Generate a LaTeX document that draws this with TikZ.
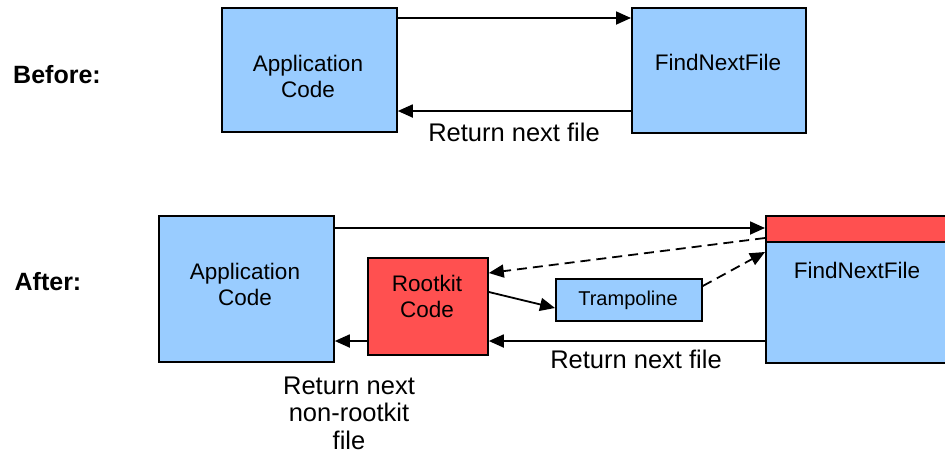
\documentclass[tikz,border=0pt]{standalone}
\usepackage{fontspec}
\setmainfont{Liberation Sans}
\usetikzlibrary{arrows.meta}
\definecolor{boxblue}{HTML}{99CCFF}
\definecolor{boxred}{HTML}{FF5050}
\tikzset{
  bluebox/.style={draw=black, fill=boxblue, line width=1.8pt, inner sep=0pt, anchor=north west},
  redbox/.style={draw=black, fill=boxred, line width=1.8pt, inner sep=0pt, anchor=north west},
  boxtext/.style={font=\fontsize{22.5}{26}\selectfont, align=center, inner sep=0pt},
  smalltext/.style={font=\fontsize{20}{24}\selectfont, inner sep=0pt},
  labeltext/.style={font=\fontsize{25.5}{27.5}\selectfont, align=center, inner sep=0pt},
  headtext/.style={font=\fontsize{25}{28}\selectfont\bfseries, inner sep=0pt},
  conn/.style={line width=1.8pt, -{Triangle[length=15pt,width=13pt]}},
  dconn/.style={conn, dash pattern=on 10pt off 6pt},
}
\begin{document}
\begin{tikzpicture}[x=1pt,y=-1pt]
\useasboundingbox (0,0) rectangle (945,456);
\clip (0,0) rectangle (945,456);
% Before
\node[headtext] (before) at (57,75) {Before:};
\node[bluebox, minimum width=175pt, minimum height=124pt] (app1) at (221,7) {};
\node[boxtext] (app1t) at (308,76) {Application\\Code};
\node[bluebox, minimum width=174pt, minimum height=125pt] (fnf1) at (631,7) {};
\node[boxtext] (fnf1t) at (718,62) {FindNextFile};
\draw[conn] (app1.north east |- 0,18) -- (fnf1.north west |- 0,18);
\draw[conn] (fnf1.north west |- 0,111) -- (app1.north east |- 0,111);
\node[labeltext] (ret1) at (514,132) {Return next file};
% After
\node[headtext] (after) at (48,282) {After:};
\node[bluebox, minimum width=175pt, minimum height=146pt] (app2) at (158,215) {};
\node[boxtext] (app2t) at (245,284) {Application\\Code};
\node[bluebox, minimum width=184pt, minimum height=147pt] (fnf2) at (765,215) {};
\node[redbox, minimum width=184pt, minimum height=26pt] (hook) at (765,215) {};
\node[boxtext] (fnf2t) at (857,270) {FindNextFile};
\node[redbox, minimum width=120pt, minimum height=97pt] (rk) at (367,257) {};
\node[boxtext] (rkt) at (427,296) {Rootkit\\Code};
\node[bluebox, minimum width=146pt, minimum height=42pt] (tramp) at (555,278) {};
\node[smalltext] (trampt) at (628,300) {Trampoline};
\coordinate (c1) at (765,238);
\draw[conn] (app2.north east |- 0,228) -- (fnf2.north west |- 0,228);
\draw[dconn] (fnf2.north west |- 0,238) -- (rk.north east |- 0,273);
\draw[conn] (rk.north east |- 0,292) -- (tramp.north west |- 0,308);
\draw[dconn] (tramp.north east |- 0,286) -- (fnf2.north west |- 0,252);
\draw[conn] (fnf2.north west |- 0,341) -- (rk.north east |- 0,341);
\draw[conn] (rk.north west |- 0,341) -- (app2.north east |- 0,341);
\node[labeltext] (ret2) at (636,359) {Return next file};
\node[labeltext] (ret3) at (349,413) {Return next\\non-rootkit\\file};
\end{tikzpicture}
\end{document}
